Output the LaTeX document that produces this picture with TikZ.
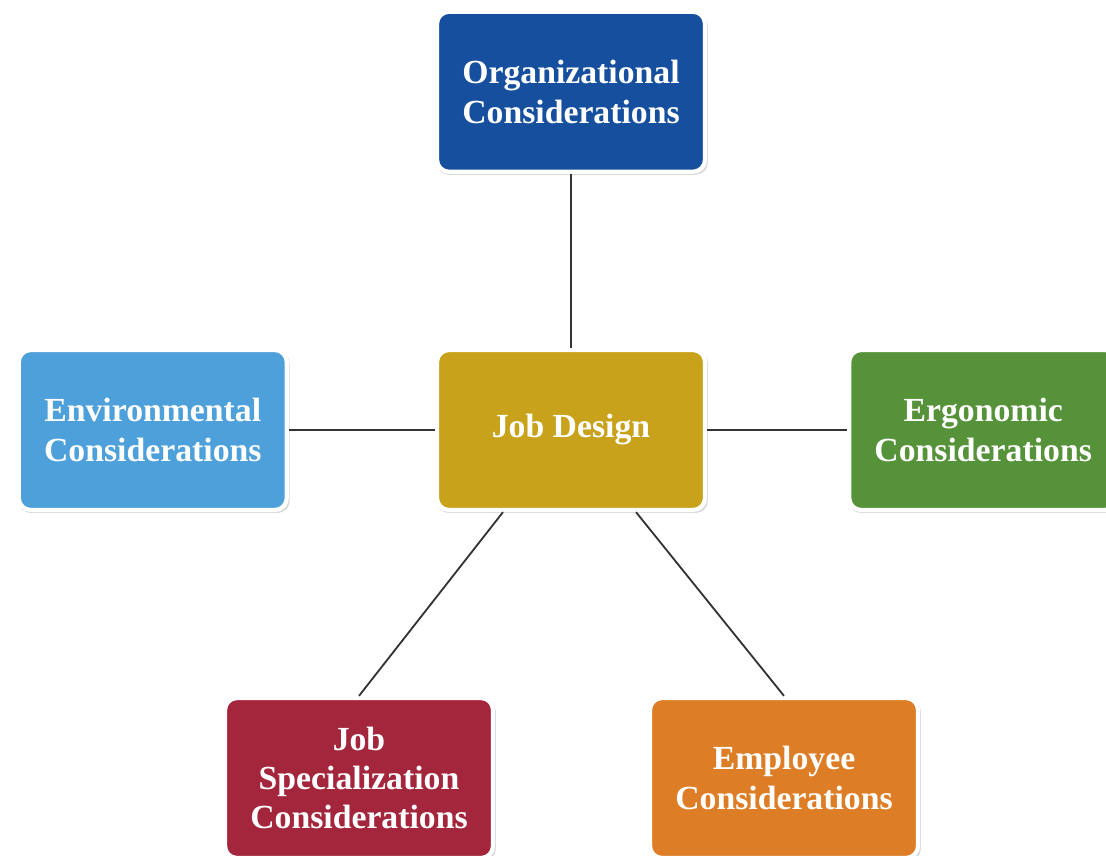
\documentclass[tikz,border=0pt]{standalone}
\usepackage{fontspec}
\setmainfont{Liberation Serif}
\usetikzlibrary{positioning,shadows}
\definecolor{orgblue}{HTML}{154F9E}
\definecolor{envblue}{HTML}{4EA0DA}
\definecolor{jobgold}{HTML}{C9A21B}
\definecolor{ergogreen}{HTML}{55923A}
\definecolor{specred}{HTML}{A3263C}
\definecolor{emporange}{HTML}{DD7E27}
\definecolor{linkgray}{HTML}{333333}
\begin{document}
\begin{tikzpicture}
                        \tikzset{Box/.style={%
                                shape=rectangle,%
                                rounded corners=0.3cm,%
                                draw=white,%
                                line width=3pt,%
                                minimum width=6.7cm,%
                                minimum height=4.0cm,%
                                inner sep=0pt,%
                                align=center,%
                                text=white,%
                                font=\fontsize{24}{28}\selectfont\bfseries,%
                                drop shadow={shadow scale=1.012,shadow xshift=0.3mm,shadow yshift=-0.5mm,opacity=0.3},%
                            },
                            Link/.style={%
                                draw=linkgray,%
                                line width=1.3pt,%
                            }}

                            \useasboundingbox (0,0) rectangle (27.65,-21.4);

                            \node[Box, fill=jobgold] (jd) at (14.275,-10.75) {Job Design};
                            \node[Box, fill=orgblue, above=4.35cm of jd] (org) {Organizational\\Considerations};
                            \node[Box, fill=envblue, left=3.65cm of jd] (env) {Environmental\\Considerations};
                            \node[Box, fill=ergogreen, right=3.5cm of jd] (ergo) {Ergonomic\\Considerations};
                            \node[Box, fill=specred] (spec) at ([shift={(-5.3,-8.7)}]jd) {Job\\Specialization\\Considerations};
                            \node[Box, fill=emporange] (emp) at ([shift={(5.325,-8.7)}]jd) {Employee\\Considerations};

                            \path (jd) edge[Link] (org);
                            \path (jd) edge[Link] (env);
                            \path (jd) edge[Link] (ergo);
                            \path ([xshift=-1.7cm]jd.south) edge[Link] (spec.north);
                            \path ([xshift=1.625cm]jd.south) edge[Link] (emp.north);
\end{tikzpicture}
\end{document}
